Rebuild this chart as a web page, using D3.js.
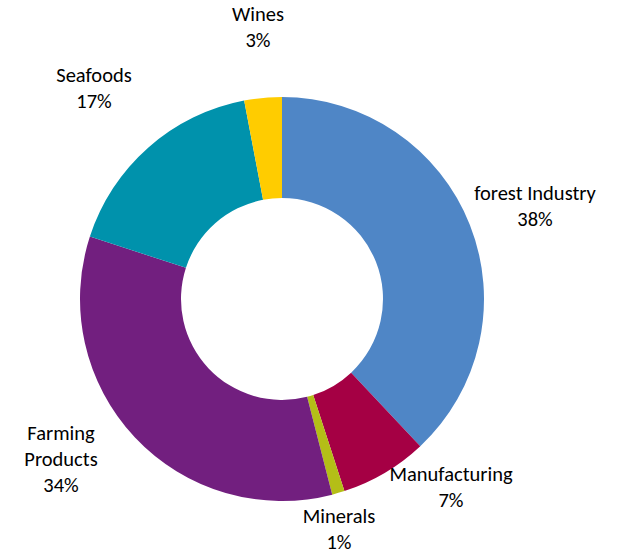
<!DOCTYPE html>
<head>
  <meta charset="utf-8">
  <style>
  body { margin: 0; background: #fff; }
  text {
    font-family: Carlito, Lato, 'Liberation Sans', sans-serif;
    font-size: 20.5px;
    fill: #000;
  }
  </style>
</head>
<body>
  <svg id="chart"></svg>
  <script src="https://d3js.org/d3.v7.min.js"></script>
  <script>

  var width = 619,
      height = 551;

  // Chart data
  var categories = ['forest Industry', 'Manufacturing', 'Minerals', 'Farming Products', 'Seafoods', 'Wines'];
  var shares = [38, 7, 1, 34, 17, 3];
  var colors = ['#4F86C6', '#A50044', '#B4BE17', '#721F7F', '#0092AC', '#FFCC00'];

  // Label layout: x centre and first baseline of the text block
  var labelLines = [['forest Industry'], ['Manufacturing'], ['Minerals'], ['Farming', 'Products'], ['Seafoods'], ['Wines']];
  var labelPos = [[535, 200], [451, 481], [339, 523], [61, 440], [94, 82], [258, 21]];
  var lineHeight = 26;

  var cx = 282, cy = 299,
      outerR = 202, innerR = 101;

  var svg = d3.select('#chart')
    .attr('width', width)
    .attr('height', height);

  var pie = d3.pie()
    .sort(null)
    .value(function(d) { return d; });

  var arc = d3.arc()
    .innerRadius(innerR)
    .outerRadius(outerR);

  var g = svg.append('g')
    .attr('transform', 'translate(' + cx + ',' + cy + ')');

  g.selectAll('path')
    .data(pie(shares))
    .enter().append('path')
      .attr('d', arc)
      .style('fill', function(d, i) { return colors[i]; });

  // Labels
  var labels = svg.selectAll('.label')
    .data(categories)
    .enter().append('text')
      .attr('class', 'label')
      .attr('text-anchor', 'middle');

  labels.each(function(name, i) {
    var t = d3.select(this);
    var lines = labelLines[i].concat([shares[i] + '%']);
    lines.forEach(function(line, j) {
      t.append('tspan')
        .attr('x', labelPos[i][0])
        .attr('y', labelPos[i][1] + j * lineHeight)
        .text(line);
    });
  });

  </script>
</body>
